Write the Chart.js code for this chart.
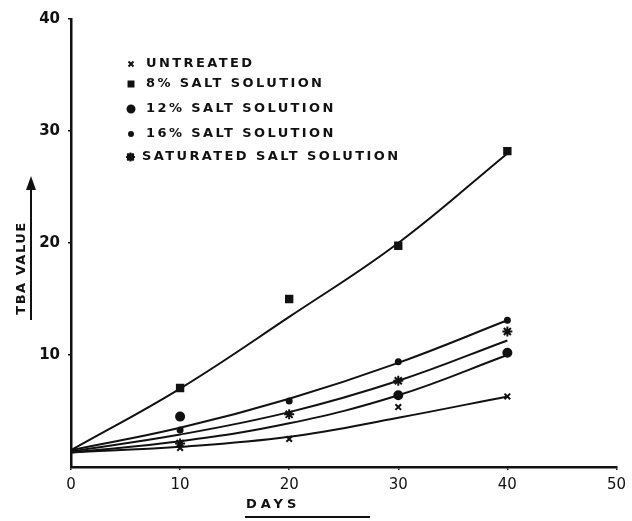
<!DOCTYPE html>
<html>
<head>
<meta charset="utf-8">
<script src="https://cdn.jsdelivr.net/npm/chart.js@4.4.1/dist/chart.umd.min.js"></script>
<style>
  html, body { margin: 0; background: #fff; }
  #wrap { width: 632px; height: 521px; position: relative; }
</style>
</head>
<body>
<div id="wrap"><canvas id="chart"></canvas></div>
<script>
// ----- data -----
const days = [0, 10, 20, 30, 40];
const obsDays = [10, 20, 30, 40];
const seriesNames = ['UNTREATED', '8% SALT SOLUTION', '12% SALT SOLUTION', '16% SALT SOLUTION', 'SATURATED SALT SOLUTION'];
// fitted curves (value at each of days)
const untreatedFit = [1.3, 1.8, 2.7, 4.4, 6.3];
const salt8Fit = [1.5, 7.0, 13.4, 20.0, 28.0];
const salt12Fit = [1.3, 2.3, 3.9, 6.4, 10.0];
const salt16Fit = [1.5, 3.5, 6.1, 9.3, 13.1];
const saturatedFit = [1.4, 2.9, 4.9, 7.7, 11.3];
// observed points (value at each of obsDays)
const untreatedObs = [1.7, 2.5, 5.35, 6.3];
const salt8Obs = [7.05, 15.0, 19.75, 28.2];
const salt12Obs = [4.5, null, 6.4, 10.2];
const salt16Obs = [3.3, 5.9, 9.4, 13.1];
const saturatedObs = [2.1, 4.7, 7.7, 12.1];
const xTicks = [0, 10, 20, 30, 40, 50];
const yTicks = [10, 20, 30, 40];

const ink = '#111';
const fits = [untreatedFit, salt8Fit, salt12Fit, salt16Fit, saturatedFit];
const obs = [untreatedObs, salt8Obs, salt12Obs, salt16Obs, saturatedObs];
const styles = [
  { pointStyle: 'crossRot', radius: 4 },
  { pointStyle: 'rect', radius: 4.5 },
  { pointStyle: 'circle', radius: 4 },
  { pointStyle: 'circle', radius: 2.5 },
  { pointStyle: 'star', radius: 5 }
];

let datasets = [];
fits.forEach((f, i) => {
  datasets.push({
    label: seriesNames[i] + ' fit',
    data: days.map((d, j) => ({ x: d, y: f[j] })),
    showLine: true,
    borderColor: ink,
    borderWidth: 2,
    pointRadius: 0,
    tension: 0.4
  });
});
obs.forEach((o, i) => {
  datasets.push({
    label: seriesNames[i],
    data: obsDays.map((d, j) => ({ x: d, y: o[j] })).filter(p => p.y !== null),
    showLine: false,
    pointStyle: styles[i].pointStyle,
    pointRadius: styles[i].radius,
    pointBorderWidth: 2,
    backgroundColor: ink,
    borderColor: ink
  });
});

//------ legend, axis titles and arrow drawn like the paper figure ------//
const paperNotes = {
  id: 'paperNotes',
  afterDraw(chart) {
    const ctx = chart.ctx;
    ctx.save();
    ctx.fillStyle = ink;
    ctx.strokeStyle = ink;
    ctx.textBaseline = 'middle';
    ctx.font = 'bold 13px "DejaVu Sans"';
    ctx.letterSpacing = '2.4px';
    const rows = [64, 84, 109, 134, 157];
    seriesNames.forEach((name, i) => {
      ctx.lineWidth = 2;
      if (i == 4) {
        // boxed star like the printed key
        ctx.fillRect(127, rows[i] - 3.5, 7, 7);
        Chart.helpers.drawPoint(ctx, { pointStyle: 'star', radius: 4.5, rotation: 0, borderWidth: 1.5 }, 130.5, rows[i]);
      } else {
        Chart.helpers.drawPoint(ctx, { pointStyle: styles[i].pointStyle, radius: i == 3 ? 2 : 3.5, rotation: 0, borderWidth: 2 }, 131, rows[i]);
      }
      ctx.fillText(name, i == 4 ? 142 : 146, rows[i]);
    });
    // y title
    ctx.save();
    ctx.translate(22, 268);
    ctx.rotate(-Math.PI / 2);
    ctx.textAlign = 'center';
    ctx.letterSpacing = '1.5px';
    ctx.fillText('TBA VALUE', 0, 0);
    ctx.restore();
    ctx.lineWidth = 2;
    ctx.beginPath();
    ctx.moveTo(31, 320);
    ctx.lineTo(31, 186);
    ctx.stroke();
    ctx.beginPath();
    ctx.moveTo(31, 176);
    ctx.lineTo(26, 190);
    ctx.lineTo(36, 190);
    ctx.closePath();
    ctx.fill();
    // x title
    ctx.textAlign = 'left';
    ctx.letterSpacing = '4px';
    ctx.fillText('DAYS', 246, 505);
    ctx.beginPath();
    ctx.moveTo(245, 517);
    ctx.lineTo(370, 517);
    ctx.stroke();
    ctx.restore();
  }
};

new Chart(document.getElementById('chart'), {
  type: 'scatter',
  data: { datasets: datasets },
  options: {
    responsive: true,
    maintainAspectRatio: false,
    animation: false,
    layout: { padding: { left: 0, right: 11, top: 19, bottom: 0 } },
    plugins: { legend: { display: false }, tooltip: { enabled: false } },
    scales: {
      x: {
        type: 'linear',
        min: 0, max: 50,
        afterBuildTicks: s => { s.ticks = xTicks.map(v => ({ value: v })) },
        afterFit: s => { s.height = 54 },
        border: { display: true, color: ink, width: 2.5 },
        grid: { drawOnChartArea: false, drawTicks: true, tickLength: 3, color: ink, lineWidth: 1.5 },
        ticks: { color: ink, padding: 6, font: { family: 'DejaVu Sans', size: 15 } }
      },
      y: {
        type: 'linear',
        min: 0, max: 40,
        afterBuildTicks: s => { s.ticks = yTicks.map(v => ({ value: v })) },
        afterFit: s => { s.width = 71 },
        border: { display: true, color: ink, width: 2.5 },
        grid: { drawOnChartArea: false, drawTicks: true, tickLength: 3, color: ink, lineWidth: 1.5 },
        ticks: { color: ink, padding: 8, font: { family: 'DejaVu Sans', size: 15, weight: 'bold' } }
      }
    }
  },
  plugins: [paperNotes]
});
</script>
</body>
</html>
